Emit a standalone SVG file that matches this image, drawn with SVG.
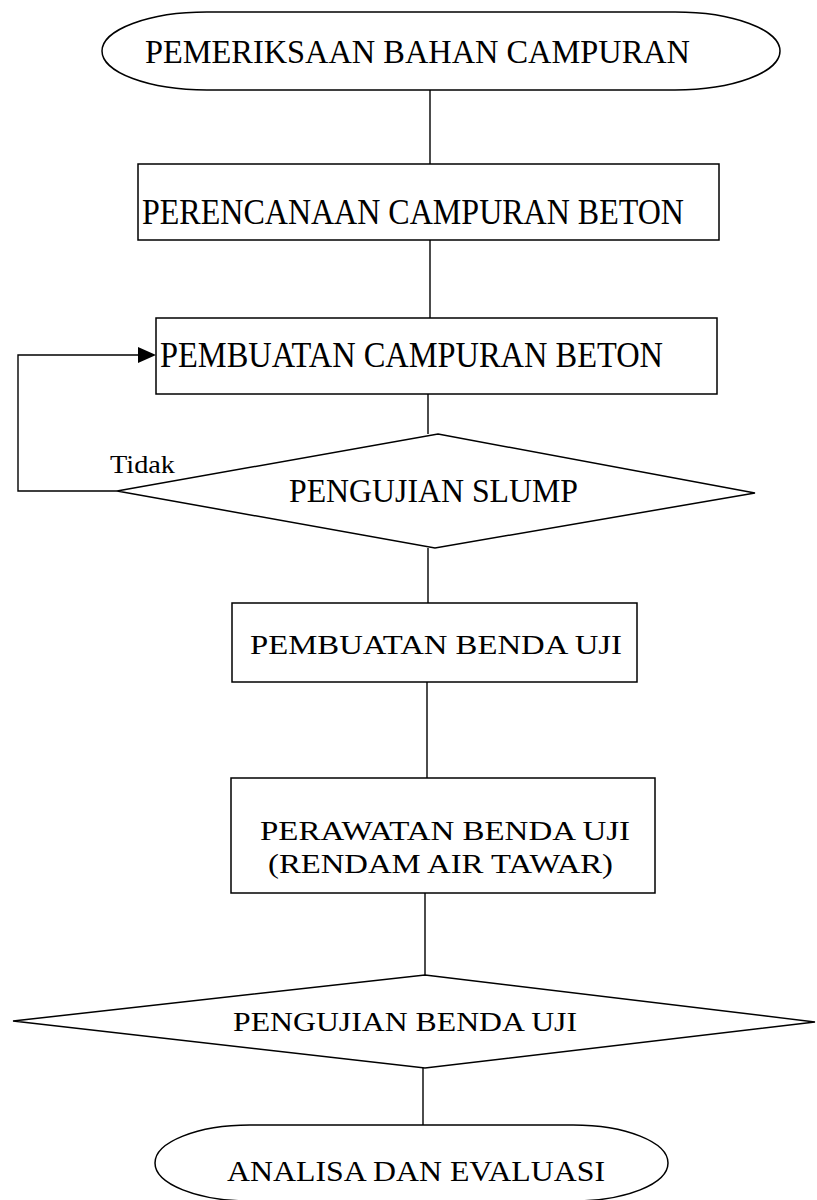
<svg xmlns="http://www.w3.org/2000/svg" width="817" height="1200" viewBox="0 0 817 1200">
<style>
.s{fill:#fff;stroke:#000;stroke-width:1.5}
.c{fill:none;stroke:#000;stroke-width:1.4}
.t{font-family:"Liberation Serif","Times New Roman",serif;fill:#000}
</style>
<rect width="817" height="1200" fill="#fff"/>
<g id="connectors">
<line class="c" x1="430" y1="90" x2="430" y2="164"/>
<line class="c" x1="430" y1="240" x2="430" y2="318"/>
<line class="c" x1="428" y1="394" x2="428" y2="434"/>
<line class="c" x1="428" y1="548" x2="428" y2="603"/>
<line class="c" x1="427" y1="682" x2="427" y2="778"/>
<line class="c" x1="425" y1="893" x2="425" y2="975"/>
<line class="c" x1="423" y1="1068" x2="423" y2="1125"/>
<path class="c" d="M117,491 L18,491 L18,355 L140,355"/>
<path d="M138,347 L156,355 L138,363 z" fill="#000"/>
<text class="t" x="110" y="473" font-size="26" textLength="65" lengthAdjust="spacingAndGlyphs">Tidak</text>
</g>
<g id="n1">
<rect class="s" x="102" y="12" width="678" height="78" rx="105" ry="39"/>
<text class="t" x="145" y="63" font-size="33" textLength="545" lengthAdjust="spacingAndGlyphs">PEMERIKSAAN BAHAN CAMPURAN</text>
</g>
<g id="n2">
<rect class="s" x="138" y="164" width="581" height="76"/>
<text class="t" x="142" y="224" font-size="36" textLength="542" lengthAdjust="spacingAndGlyphs">PERENCANAAN CAMPURAN BETON</text>
</g>
<g id="n3">
<rect class="s" x="156" y="318" width="561" height="76"/>
<text class="t" x="160" y="367" font-size="35" textLength="503" lengthAdjust="spacingAndGlyphs">PEMBUATAN CAMPURAN BETON</text>
</g>
<g id="n4">
<polygon class="s" points="438,434 755,493 435,548 117,491"/>
<text class="t" x="289" y="502" font-size="34" textLength="289" lengthAdjust="spacingAndGlyphs">PENGUJIAN SLUMP</text>
</g>
<g id="n5">
<rect class="s" x="232" y="603" width="405" height="79"/>
<text class="t" x="250" y="654" font-size="28" textLength="372" lengthAdjust="spacingAndGlyphs">PEMBUATAN BENDA UJI</text>
</g>
<g id="n6">
<rect class="s" x="231" y="778" width="424" height="115"/>
<text class="t" x="260" y="840" font-size="28" textLength="370" lengthAdjust="spacingAndGlyphs">PERAWATAN BENDA UJI</text>
<text class="t" x="268" y="873" font-size="28" textLength="345" lengthAdjust="spacingAndGlyphs">(RENDAM AIR TAWAR)</text>
</g>
<g id="n7">
<polygon class="s" points="425,975 815,1022 425,1068 13,1021"/>
<text class="t" x="233" y="1031" font-size="27" textLength="344" lengthAdjust="spacingAndGlyphs">PENGUJIAN BENDA UJI</text>
</g>
<g id="n8">
<rect class="s" x="155" y="1125" width="513" height="76" rx="95" ry="38"/>
<text class="t" x="227" y="1181" font-size="29" textLength="378" lengthAdjust="spacingAndGlyphs">ANALISA DAN EVALUASI</text>
</g>
</svg>
